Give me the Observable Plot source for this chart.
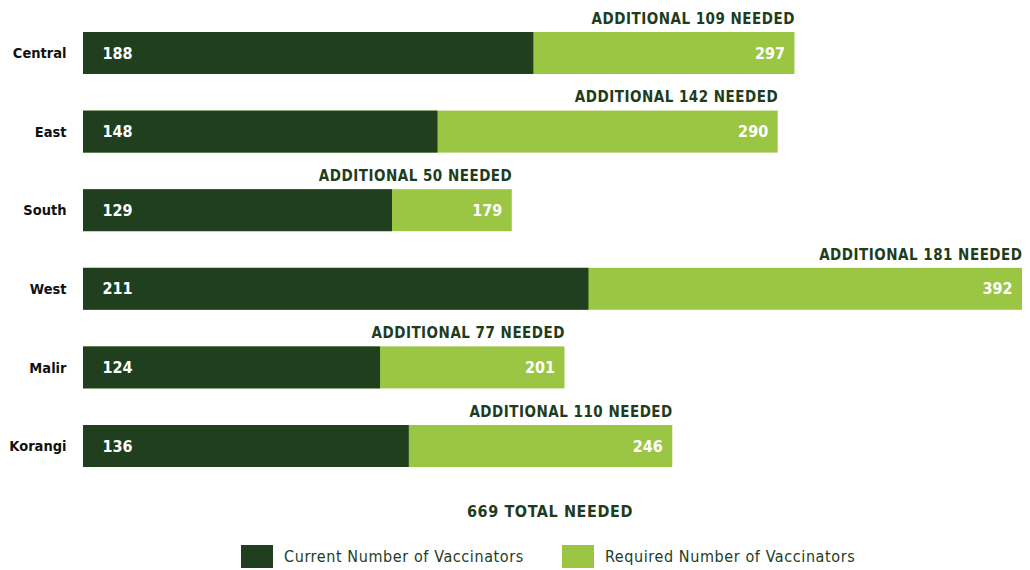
<!DOCTYPE html>
<html>
<head>
<meta charset="utf-8">
<script src="https://cdn.jsdelivr.net/npm/d3@7"></script>
<script src="https://cdn.jsdelivr.net/npm/@observablehq/plot@0.6"></script>
<style>
  html, body { margin: 0; padding: 0; background: #fff; }
  body { width: 1030px; height: 570px; overflow: hidden; font-family: "DejaVu Sans Condensed", "DejaVu Sans", sans-serif; }
  #chart svg { display: block; }
  .total { position: absolute; top: 502px; left: 0; width: 1100px; text-align: center; font-weight: bold; font-size: 16px; letter-spacing: 0.6px; color: #1e3d1e; }
  .legend { position: absolute; top: 545px; left: 241px; display: flex; align-items: center; font-size: 16px; color: #1e3d1e; letter-spacing: 0.6px; }
  .sw { width: 32px; height: 23px; display: inline-block; margin-right: 11px; }
  .item { display: flex; align-items: center; margin-right: 38px; }
</style>
</head>
<body>
<div id="chart"></div>
<div class="total" id="total"></div>
<div class="legend" id="legend"></div>
<script>
const districts = ["Central", "East", "South", "West", "Malir", "Korangi"];
const current = [188, 148, 129, 211, 124, 136];
const required = [297, 290, 179, 392, 201, 246];
const seriesNames = ["Current Number of Vaccinators", "Required Number of Vaccinators"];
const colors = ["#1f3f1f", "#9bc644"];

const rows = districts.map((d, i) => ({
  district: d,
  current: current[i],
  required: required[i],
  additional: required[i] - current[i]
}));
const totalNeeded = d3.sum(rows, r => r.additional);

const chart = Plot.plot({
  width: 1030,
  height: 490,
  marginLeft: 83,
  marginRight: 8,
  marginTop: 14,
  marginBottom: 5,
  x: { domain: [0, 392], axis: null },
  y: { domain: districts, paddingInner: 0.466, paddingOuter: 0.229, round: false, label: null },
  style: { fontFamily: "'DejaVu Sans Condensed', 'DejaVu Sans', sans-serif", fontSize: "15px" },
  marks: [
    Plot.axisY({ tickSize: 0, tickPadding: 17, fontWeight: "bold", fontSize: 14.5, fill: "#111", label: null }),
    Plot.barX(rows, { y: "district", x1: 0, x2: "required", fill: colors[1] }),
    Plot.barX(rows, { y: "district", x1: 0, x2: "current", fill: colors[0] }),
    Plot.text(rows, { y: "district", x: 0, text: d => String(d.current), textAnchor: "start", dx: 19, fill: "white", fontWeight: "bold", fontSize: 16 }),
    Plot.text(rows, { y: "district", x: "required", text: d => String(d.required), textAnchor: "end", dx: -10, fill: "white", fontWeight: "bold", fontSize: 16 }),
    Plot.text(rows, { y: "district", x: "required", text: d => `ADDITIONAL ${d.additional} NEEDED`, textAnchor: "end", dy: -34.5, fill: "#1e3d1e", fontWeight: "bold", fontSize: 15 })
  ]
});
chart.querySelectorAll("text").forEach(t => { if (t.textContent.startsWith("ADDITIONAL")) t.style.letterSpacing = "0.5px"; });
document.getElementById("chart").appendChild(chart);

document.getElementById("total").textContent = `${totalNeeded} TOTAL NEEDED`;
const legend = document.getElementById("legend");
seriesNames.forEach((name, i) => {
  const item = document.createElement("div");
  item.className = "item";
  const sw = document.createElement("span");
  sw.className = "sw";
  sw.style.background = colors[i];
  item.appendChild(sw);
  item.appendChild(document.createTextNode(name));
  legend.appendChild(item);
});
</script>
</body>
</html>
